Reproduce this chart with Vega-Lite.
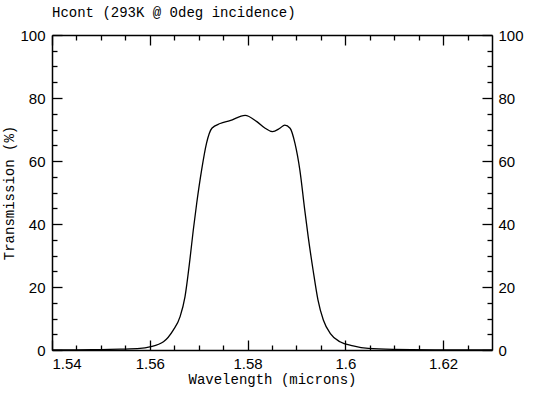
{
  "$schema": "https://vega.github.io/schema/vega-lite/v6.json",
  "autosize": "none",
  "width": 440,
  "height": 315,
  "padding": {"left": 52, "top": 35, "right": 50, "bottom": 43},
  "background": "white",
  "title": {"text": "Hcont (293K @ 0deg incidence)", "anchor": "start", "frame": "group", "font": "Liberation Mono", "fontSize": 14, "fontWeight": "normal", "color": "black", "offset": 8},
  "config": {"view": {"stroke": null}, "axis": {"domainColor": "black", "tickColor": "black", "labelColor": "black", "titleColor": "black", "grid": false, "domainWidth": 1.5, "tickWidth": 1.3, "labelFont": "Liberation Sans", "labelFontSize": 15, "titleFont": "Liberation Mono", "titleFontSize": 14, "titleFontWeight": "normal"}},
  "data": {"values": [
    {"w": 1.540, "t": 0}, {"w": 1.545, "t": 0.05}, {"w": 1.550, "t": 0.1}, {"w": 1.554, "t": 0.25},
    {"w": 1.558, "t": 0.5}, {"w": 1.560, "t": 1.0}, {"w": 1.5628, "t": 2.6}, {"w": 1.5648, "t": 6.3},
    {"w": 1.5662, "t": 10.6}, {"w": 1.5672, "t": 16.9}, {"w": 1.5682, "t": 28.6}, {"w": 1.5689, "t": 38.1},
    {"w": 1.5696, "t": 46.6}, {"w": 1.5706, "t": 57.1}, {"w": 1.5716, "t": 65.6}, {"w": 1.5727, "t": 70.4},
    {"w": 1.5744, "t": 71.9}, {"w": 1.5764, "t": 72.8},
    {"w": 1.5795, "t": 74.5}, {"w": 1.5819, "t": 72.5}, {"w": 1.5836, "t": 70.4}, {"w": 1.5851, "t": 69.3},
    {"w": 1.5866, "t": 70.4}, {"w": 1.5876, "t": 71.4}, {"w": 1.5887, "t": 70.4}, {"w": 1.5897, "t": 65.6},
    {"w": 1.5907, "t": 57.1}, {"w": 1.5917, "t": 44.4}, {"w": 1.5924, "t": 36.0}, {"w": 1.5934, "t": 25.4},
    {"w": 1.5944, "t": 15.9}, {"w": 1.5955, "t": 9.5}, {"w": 1.5969, "t": 5.3}, {"w": 1.5989, "t": 2.6},
    {"w": 1.6016, "t": 1.3}, {"w": 1.6047, "t": 0.5}, {"w": 1.610, "t": 0.2}, {"w": 1.620, "t": 0.05}, {"w": 1.630, "t": 0}
  ]},
  "resolve": {"axis": {"x": "independent", "y": "independent"}},
  "layer": [
    {
      "mark": {"type": "line", "color": "black", "strokeWidth": 1.3, "interpolate": "monotone"},
      "encoding": {
        "x": {"field": "w", "type": "quantitative", "scale": {"domain": [1.54, 1.63], "nice": false, "zero": false},
              "axis": {"orient": "bottom", "values": [1.54, 1.56, 1.58, 1.6, 1.62], "tickSize": -10, "labelPadding": 16, "format": "~g", "title": "Wavelength (microns)", "titlePadding": 1}},
        "y": {"field": "t", "type": "quantitative", "scale": {"domain": [0, 100], "nice": false},
              "axis": {"orient": "left", "values": [0, 20, 40, 60, 80, 100], "tickSize": -10, "labelPadding": 17, "title": "Transmission (%)", "titlePadding": 3}}
      }
    },
    {
      "mark": {"type": "line", "opacity": 0},
      "encoding": {
        "x": {"field": "w", "type": "quantitative", "axis": {"orient": "bottom", "values": [1.545, 1.55, 1.555, 1.565, 1.57, 1.575, 1.585, 1.59, 1.595, 1.605, 1.61, 1.615, 1.625], "tickSize": -5, "labels": false, "domain": false, "title": null}},
        "y": {"field": "t", "type": "quantitative", "axis": {"orient": "left", "values": [5, 10, 15, 25, 30, 35, 45, 50, 55, 65, 70, 75, 85, 90, 95], "tickSize": -5, "labels": false, "domain": false, "title": null}}
      }
    },
    {
      "mark": {"type": "line", "opacity": 0},
      "encoding": {
        "x": {"field": "w", "type": "quantitative", "axis": {"orient": "top", "values": [1.54, 1.56, 1.58, 1.6, 1.62], "tickSize": -10, "labels": false, "title": null}},
        "y": {"field": "t", "type": "quantitative", "axis": {"orient": "right", "values": [0, 20, 40, 60, 80, 100], "tickSize": -10, "labelPadding": 16, "title": null}}
      }
    },
    {
      "mark": {"type": "line", "opacity": 0},
      "encoding": {
        "x": {"field": "w", "type": "quantitative", "axis": {"orient": "top", "values": [1.545, 1.55, 1.555, 1.565, 1.57, 1.575, 1.585, 1.59, 1.595, 1.605, 1.61, 1.615, 1.625], "tickSize": -5, "labels": false, "domain": false, "title": null}},
        "y": {"field": "t", "type": "quantitative", "axis": {"orient": "right", "values": [5, 10, 15, 25, 30, 35, 45, 50, 55, 65, 70, 75, 85, 90, 95], "tickSize": -5, "labels": false, "domain": false, "title": null}}
      }
    }
  ]
}
